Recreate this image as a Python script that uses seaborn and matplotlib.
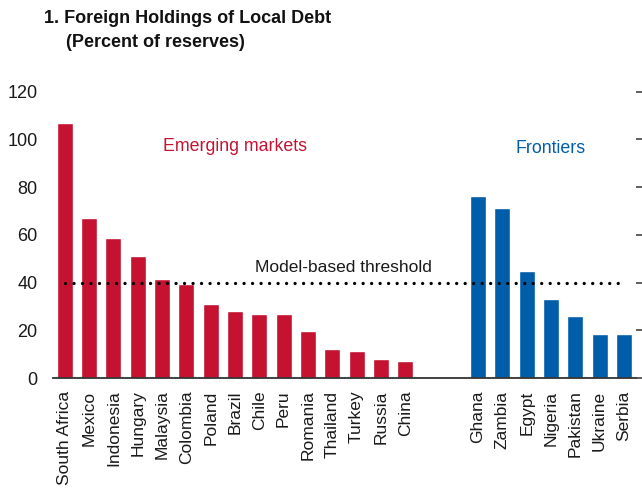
import matplotlib

matplotlib.use("Agg")

import matplotlib.pyplot as plt
import numpy as np
import pandas as pd
import seaborn as sns


EMERGING = [
    "South Africa", "Mexico", "Indonesia", "Hungary", "Malaysia", "Colombia",
    "Poland", "Brazil", "Chile", "Peru", "Romania", "Thailand", "Turkey",
    "Russia", "China",
]
EMERGING_VALUES = [107.0, 67.1, 58.8, 51.3, 41.5, 39.5, 31.0, 28.1, 26.8, 26.8,
                   19.8, 12.2, 11.4, 8.1, 7.3]
FRONTIERS = ["Ghana", "Zambia", "Egypt", "Nigeria", "Pakistan", "Ukraine", "Serbia"]
FRONTIER_VALUES = [76.3, 71.3, 45.0, 33.2, 26.1, 18.6, 18.6]
GAP_SLOTS = ["_gap1", "_gap2"]
THRESHOLD = 40
Y_TICKS = [0, 20, 40, 60, 80, 100, 120]

RED = "#C41230"
BLUE = "#005DAA"
FONT = ["Liberation Sans", "DejaVu Sans"]


def build_frame() -> pd.DataFrame:
    em = pd.DataFrame({"country": EMERGING, "value": EMERGING_VALUES, "group": "Emerging markets"})
    fr = pd.DataFrame({"country": FRONTIERS, "value": FRONTIER_VALUES, "group": "Frontiers"})
    return pd.concat([em, fr], ignore_index=True)


def main() -> None:
    sns.set_style("white")
    plt.rcParams["font.family"] = FONT

    df = build_frame()
    order = EMERGING + GAP_SLOTS + FRONTIERS

    fig = plt.figure(figsize=(6.42, 4.91), dpi=100)
    ax = fig.add_axes([0.0821, 0.2301, 0.9086, 0.5831])

    sns.barplot(
        data=df,
        x="country",
        y="value",
        hue="group",
        order=order,
        palette={"Emerging markets": RED, "Frontiers": BLUE},
        dodge=False,
        width=0.66,
        legend=False,
        ax=ax,
        saturation=1,
    )

    n = len(order)
    ax.set_xlim(-0.5, n - 0.5)
    ax.set_ylim(0, 120)
    ax.set_xticks(range(n))
    ax.set_xticklabels(["" if c in GAP_SLOTS else c for c in order], rotation=90, fontsize=12.5)
    ax.set_xticks(np.arange(-0.5, n, 1.0), minor=True)
    ax.set_yticks(Y_TICKS)
    ax.set_yticklabels([str(t) for t in Y_TICKS], fontsize=13)
    ax.set_xlabel("")
    ax.set_ylabel("")

    for side in ["left", "right", "top"]:
        ax.spines[side].set_visible(False)
    ax.spines["bottom"].set_color("#333333")
    ax.spines["bottom"].set_linewidth(1.3)

    ax.tick_params(axis="x", which="major", length=0, pad=9, colors="#1a1a1a")
    ax.tick_params(axis="x", which="minor", direction="in", length=5, width=1.1, color="#333333")
    ax.tick_params(axis="y", which="major", direction="out", length=6, width=1.1,
                   color="#333333", labelcolor="#1a1a1a", right=True, labelright=False, pad=5)

    ax.plot(
        [0, n - 1],
        [THRESHOLD, THRESHOLD],
        color="black",
        linewidth=2.4,
        linestyle=(0, (0.001, 2.55)),
        dash_capstyle="round",
        zorder=5,
    )
    ax.text(11.45, THRESHOLD + 6.5, "Model-based threshold", ha="center", va="center",
            fontsize=12.5, color="#1a1a1a")
    ax.text(7.0, 96.9, "Emerging markets", ha="center", va="center", fontsize=12.8, color=RED)
    ax.text(20.0, 96.4, "Frontiers", ha="center", va="center", fontsize=12.8, color=BLUE)

    fig.text(0.068, 0.963, "1. Foreign Holdings of Local Debt", fontsize=13, fontweight="bold",
             ha="left", va="center", color="#111111")
    fig.text(0.103, 0.914, "(Percent of reserves)", fontsize=13, fontweight="bold",
             ha="left", va="center", color="#111111")

    fig.savefig("out.png", dpi=100)
    plt.close(fig)


if __name__ == "__main__":
    main()
